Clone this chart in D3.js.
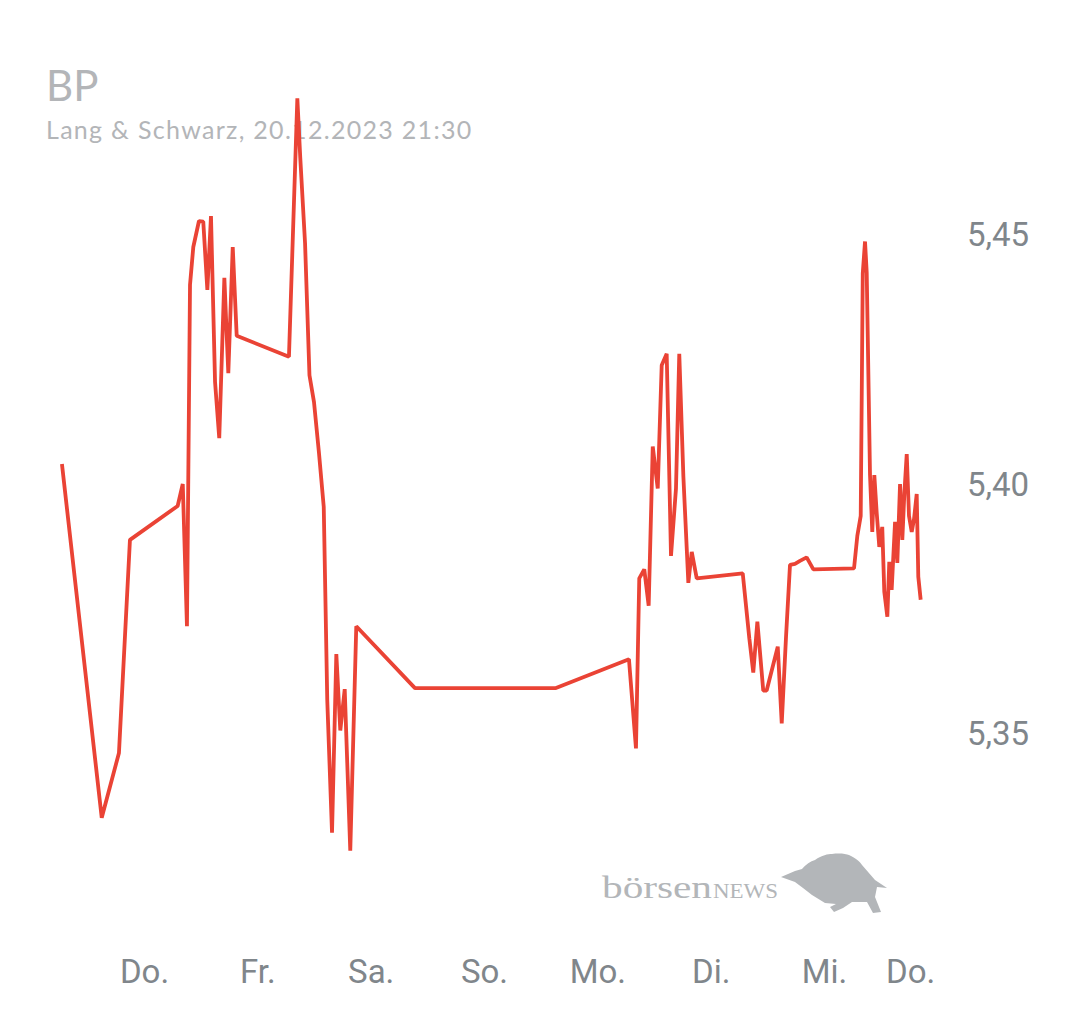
<!DOCTYPE html>
<html>
<head>
<meta charset="utf-8">
<script src="https://cdn.jsdelivr.net/npm/d3@7"></script>
<style>
  html, body { margin: 0; padding: 0; background: #fff; }
  svg { display: block; }
</style>
</head>
<body>
<div id="chart"></div>
<script>
// time in days since Thu 14.12. 00:00 (as drawn on the chart)
var times = [
    -0.724, -0.373, -0.221, -0.124, 0.297, 0.342, 0.379, 0.406, 0.435, 0.485,
    0.523, 0.559, 0.591, 0.627, 0.664, 0.709, 0.744, 0.783, 0.818, 1.279,
    1.353, 1.379, 1.421, 1.460, 1.500, 1.544, 1.586, 1.617, 1.659, 1.697,
    1.732, 1.771, 1.820, 1.873, 2.391, 3.635, 4.279, 4.341, 4.370, 4.414,
    4.453, 4.489, 4.533, 4.568, 4.612, 4.650, 4.694, 4.723, 4.759, 4.803,
    4.833, 4.877, 5.283, 5.341, 5.376, 5.412, 5.464, 5.494, 5.592, 5.627,
    5.665, 5.700, 5.744, 5.788, 5.847, 5.906, 6.265, 6.294, 6.324, 6.342,
    6.362, 6.377, 6.406, 6.426, 6.444, 6.465, 6.488, 6.514, 6.532, 6.559,
    6.576, 6.597, 6.627, 6.647, 6.671, 6.691, 6.709, 6.730, 6.750, 6.774,
    6.794, 6.818, 6.832, 6.853
];
var prices = [
    5.4041, 5.3332, 5.3462, 5.3889, 5.3957, 5.4001, 5.3716, 5.4400, 5.4476, 5.4528,
    5.4527, 5.4390, 5.4538, 5.4205, 5.4093, 5.4414, 5.4223, 5.4476, 5.4298, 5.4256,
    5.4774, 5.4654, 5.4484, 5.4219, 5.4165, 5.4063, 5.3955, 5.3568, 5.3302, 5.3660,
    5.3507, 5.3590, 5.3266, 5.3716, 5.3592, 5.3592, 5.3650, 5.3471, 5.3812, 5.3830,
    5.3757, 5.4076, 5.3992, 5.4239, 5.4262, 5.3857, 5.3992, 5.4262, 5.4017, 5.3803,
    5.3865, 5.3812, 5.3822, 5.3692, 5.3623, 5.3725, 5.3587, 5.3587, 5.3675, 5.3521,
    5.3695, 5.3839, 5.3841, 5.3847, 5.3854, 5.3830, 5.3832, 5.3897, 5.3937, 5.4423,
    5.4487, 5.4424, 5.4019, 5.3905, 5.4019, 5.3943, 5.3875, 5.3915, 5.3785, 5.3735,
    5.3845, 5.3789, 5.3925, 5.3843, 5.4001, 5.3889, 5.3982, 5.4061, 5.3937, 5.3905,
    5.3930, 5.3981, 5.3815, 5.3769
];
var dayTicks = [0, 1, 2, 3, 4, 5, 6, 6.76];
var dayLabels = ["Do.", "Fr.", "Sa.", "So.", "Mo.", "Di.", "Mi.", "Do."];
var priceTicks = [5.35, 5.40, 5.45];

var title = "BP";
var subtitle = "Lang & Schwarz, 20.12.2023 21:30";

var width = 1080;
var height = 1013;

var svg = d3.select("#chart")
    .append("svg")
    .attr("width", width)
    .attr("height", height);

svg.append("rect")
    .attr("width", width)
    .attr("height", height)
    .attr("fill", "#ffffff");

var x = d3.scaleLinear()
    .domain([0, 6])
    .range([144, 824]);

var y = d3.scaleLinear()
    .domain([5.35, 5.45])
    .range([734, 235]);

var de = d3.formatLocale({decimal: ",", thousands: ".", grouping: [3], currency: ["", " €"]});
var fmt = de.format(".2f");

// watermark
var mark = svg.append("g").attr("class", "watermark").attr("fill", "#b3b6b9");
mark.append("text")
    .attr("x", 602)
    .attr("y", 898)
    .attr("font-family", "'Liberation Serif', 'DejaVu Serif', serif")
    .attr("font-size", 31)
    .attr("textLength", 110)
    .attr("lengthAdjust", "spacingAndGlyphs")
    .text("börsen");
mark.append("text")
    .attr("x", 713)
    .attr("y", 898)
    .attr("font-family", "'Liberation Serif', 'DejaVu Serif', serif")
    .attr("font-size", 21)
    .attr("textLength", 65)
    .attr("lengthAdjust", "spacingAndGlyphs")
    .text("NEWS");
// bull
mark.append("path")
    .attr("d", "M781 877 L795 871 L802 869 Q808 862 815 860 C822 855 828 854 832 854 " +
               "C840 853 846 854 849 855 C856 858 860 862 862 865 L875 880 L887 888 " +
               "L877 887 L875 897 L881 912 L873 913 L867 902 L852 902 L843 908 " +
               "L834 912 L830 907 L836 904 L825 903 L812 895 L803 888 L795 882 Z");

// header
svg.append("text")
    .attr("x", 46)
    .attr("y", 101)
    .attr("font-family", "Lato, 'Noto Sans', sans-serif")
    .attr("font-size", 42)
    .attr("fill", "#b3b5b8")
    .text(title);
svg.append("text")
    .attr("x", 46)
    .attr("y", 139)
    .attr("font-family", "Lato, 'Noto Sans', sans-serif")
    .attr("font-size", 25)
    .attr("fill", "#b3b5b8")
    .attr("letter-spacing", 1.3)
    .text(subtitle);

// axes
var xAxis = d3.axisBottom(x)
    .tickValues(dayTicks)
    .tickSize(0)
    .tickPadding(0)
    .tickFormat(function(d, i) { return dayLabels[i]; });
var gX = svg.append("g")
    .attr("class", "axis axis--x")
    .attr("transform", "translate(0,983)")
    .call(xAxis);

var yAxis = d3.axisRight(y)
    .tickValues(priceTicks)
    .tickSize(0)
    .tickPadding(0)
    .tickFormat(fmt);
var gY = svg.append("g")
    .attr("class", "axis axis--y")
    .attr("transform", "translate(967,0)")
    .call(yAxis);

svg.selectAll(".axis .domain").remove();
svg.selectAll(".axis text")
    .attr("font-family", "Roboto, sans-serif")
    .attr("font-size", 33)
    .attr("fill", "#80868b");
gX.selectAll("text").attr("dy", null).attr("y", 0);
gY.selectAll("text").attr("dy", "0.33em").attr("text-anchor", "start");

// price line
var series = times.map(function(t, i) { return {t: t, v: prices[i]}; });
var line = d3.line()
    .x(function(d) { return x(d.t); })
    .y(function(d) { return y(d.v); });

svg.append("path")
    .datum(series)
    .attr("class", "line")
    .attr("fill", "none")
    .attr("stroke", "#ea4335")
    .attr("stroke-width", 3.8)
    .attr("stroke-linejoin", "bevel")
    .attr("d", line);
</script>
</body>
</html>
